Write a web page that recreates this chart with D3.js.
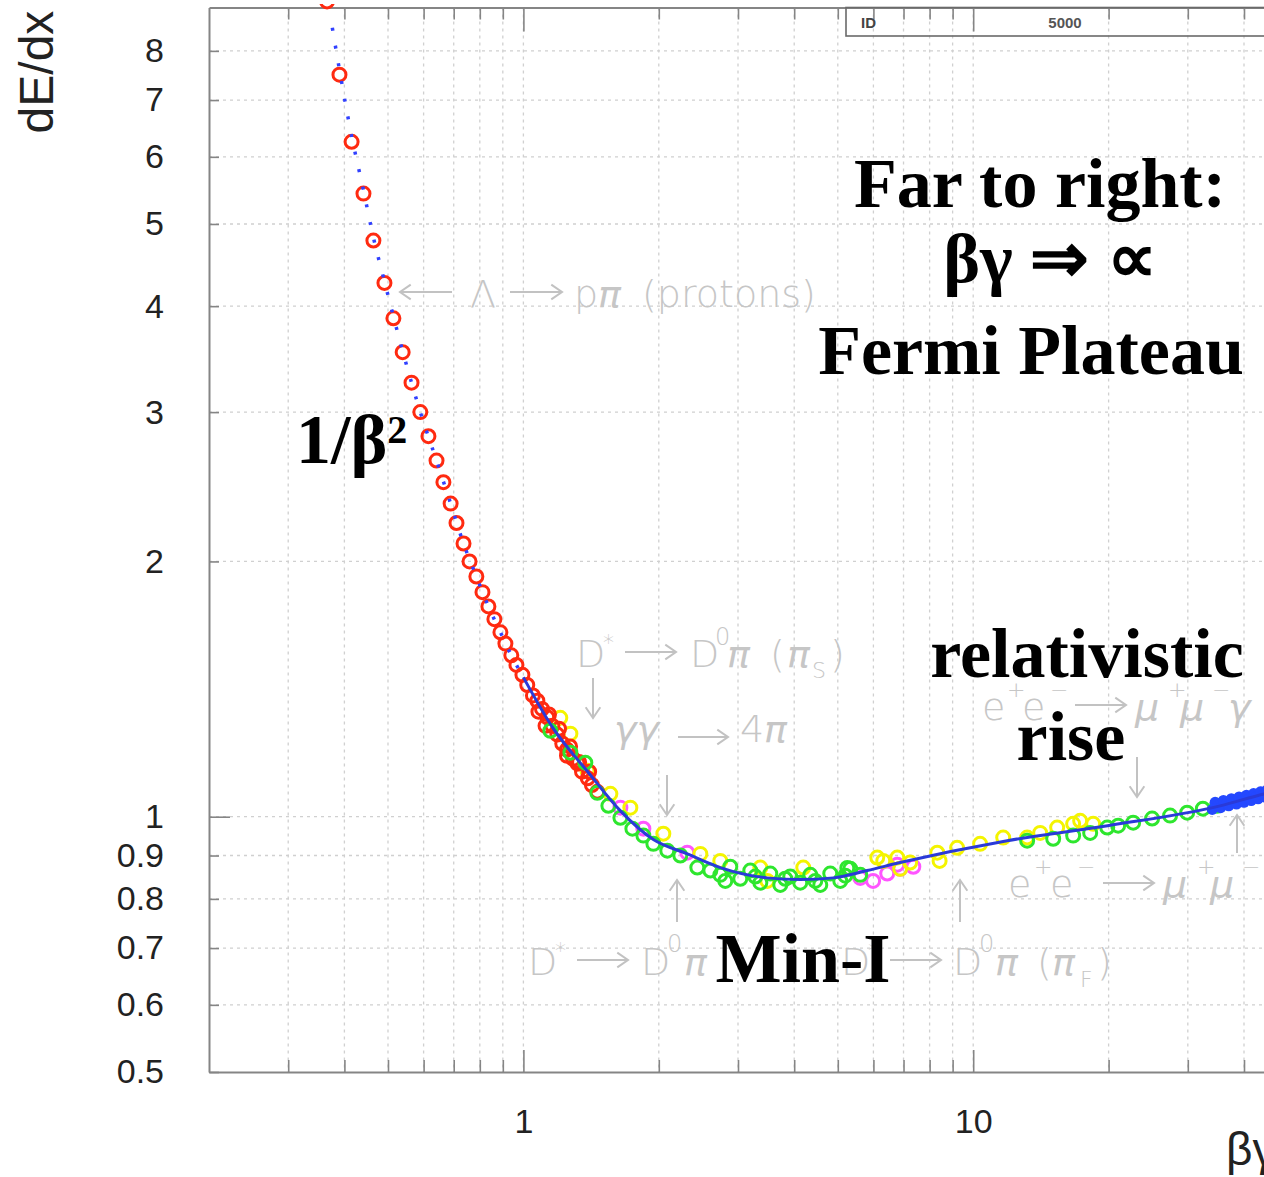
<!DOCTYPE html>
<html>
<head>
<meta charset="utf-8">
<script src="https://cdn.jsdelivr.net/npm/d3@7"></script>
<style>
body { margin: 0; background: #fff; }
svg { display: block; }
.axis path { stroke: #858585; stroke-width: 2; }
.axis line { stroke: #858585; stroke-width: 1.6; }
.grid line { stroke: #d0d0d0; stroke-width: 1.3; stroke-dasharray: 3,4; }
.tick-label { font-family: "Liberation Sans", Arial, sans-serif; font-size: 34px; fill: #222; }
.big { font-family: "Liberation Serif", "Times New Roman", serif; font-weight: bold; font-size: 70px; fill: #000; }
.note { font-family: "DejaVu Sans", sans-serif; font-weight: 200; font-size: 38px; fill: #c6c6c6; }
</style>
</head>
<body>
<div id="chart"></div>
<script>
// axis ticks / labels
var xGrid = [0.3,0.4,0.5,0.6,0.7,0.8,0.9,1,2,3,4,5,6,7,8,9,10,20,30,40,50,60,70,80,90];
var xLabels = [1, 10];
var yGrid = [0.6,0.7,0.8,0.9,1,2,3,4,5,6,7,8];
var yLabels = [0.5,0.6,0.7,0.8,0.9,1,2,3,4,5,6,7,8];

// protons (red)
var redBG = [0.366,0.390,0.415,0.441,0.464,0.491,0.514,0.539,0.564,0.590,0.615,0.641,0.664,0.689,0.710,0.736,0.759,0.786,0.811,0.836,0.862,0.889,0.912,0.940,0.965,0.995,1.02,1.05,1.074,1.10,1.13,1.16,1.19,1.22,1.25,1.29,1.32,1.35,1.39,1.42,1.46,1.08,1.14,1.20,1.27,1.33,1.40,1.12,1.25];
var redDE = [9.15,7.50,6.25,5.43,4.78,4.26,3.87,3.53,3.25,3.00,2.81,2.63,2.48,2.34,2.22,2.10,2.00,1.92,1.84,1.77,1.71,1.65,1.60,1.55,1.51,1.47,1.43,1.39,1.37,1.34,1.31,1.28,1.25,1.22,1.20,1.17,1.155,1.13,1.11,1.09,1.07,1.33,1.32,1.27,1.21,1.16,1.13,1.28,1.18];

// green
var greenBG = [1.148,1.272,1.373,1.460,1.545,1.643,1.747,1.848,1.945,2.089,2.233,2.436,2.604,2.74,2.884,3.035,3.195,3.363,3.539,3.725,3.92,4.126,4.343,4.571,4.811,5.064,5.33,5.61,2.811,3.278,3.821,4.456,5.195,5.25,13.18,15.06,16.68,18.2,19.86,21.0,22.68,24.99,27.4,29.9,32.4,34.85];
var greenDE = [1.263,1.190,1.158,1.067,1.030,0.997,0.968,0.950,0.929,0.912,0.900,0.871,0.864,0.854,0.873,0.845,0.864,0.836,0.857,0.831,0.850,0.836,0.854,0.831,0.857,0.840,0.868,0.854,0.840,0.850,0.845,0.840,0.852,0.870,0.937,0.942,0.950,0.957,0.971,0.976,0.984,0.995,1.003,1.011,1.022,1.030];

// yellow
var yellowBG = [1.208,1.272,1.388,1.561,1.729,2.047,2.474,2.74,3.363,3.485,4.19,6.12,6.31,6.78,7.24,8.32,9.21,10.36,11.66,13.18,14.09,15.37,16.68,17.29,18.48,6.88,8.42];
var yellowDE = [1.308,1.253,1.133,1.064,1.025,0.955,0.904,0.887,0.871,0.840,0.871,0.895,0.887,0.895,0.883,0.907,0.919,0.929,0.945,0.945,0.957,0.971,0.981,0.989,0.981,0.868,0.887];

// magenta
var magentaBG = [1.643,1.848,2.314,5.61,5.99,6.44,6.88,7.36,6.78];
var magentaDE = [1.025,0.968,0.907,0.847,0.840,0.857,0.868,0.873,0.878];

// blue cluster at high betagamma
var blueBG = [34.0,34.5,35.0,35.5,36.0,36.5,37.0,37.5,38.0,38.5,39.0,39.5,40.0,40.5,41.0,41.5,42.0,42.5,43.0,43.5,44.0,44.5,45.0,46.0,47.0];
var blueDE = [1.02,1.04,1.03,1.025,1.045,1.035,1.03,1.05,1.04,1.035,1.055,1.045,1.04,1.06,1.05,1.045,1.065,1.055,1.05,1.07,1.06,1.055,1.075,1.065,1.07];

// Bethe-Bloch fit curve
var fitBG = [0.376,0.39,0.415,0.441,0.464,0.491,0.514,0.539,0.564,0.59,0.641,0.689,0.736,0.786,0.836,0.889,0.94,1.0,1.166,1.39,1.643,1.945,2.314,2.74,3.48,4.13,4.89,5.81,6.88,11.9,19.9,35.4,44.3,60];
var fitDE = [8.52,7.6,6.35,5.48,4.82,4.28,3.89,3.54,3.25,3.00,2.63,2.34,2.10,1.92,1.77,1.65,1.55,1.46,1.27,1.13,1.016,0.94,0.904,0.871,0.847,0.843,0.847,0.864,0.883,0.937,0.976,1.030,1.064,1.10];

var width = 1264, height = 1177;

var svg = d3.select("#chart").append("svg")
    .attr("width", width)
    .attr("height", height);

var x = d3.scaleLog().domain([0.2, 100]).range([209, 1423]);
var y = d3.scaleLog().domain([0.5, 9]).range([1072, 7.5]);

function zip(a, b) { return a.map(function(v, i) { return [v, b[i]]; }); }

// grid
var grid = svg.append("g").attr("class", "grid");
grid.selectAll(".gx").data(xGrid).enter().append("line")
    .attr("x1", function(d) { return x(d); }).attr("x2", function(d) { return x(d); })
    .attr("y1", y(9)).attr("y2", y(0.5));
grid.selectAll(".gy").data(yGrid).enter().append("line")
    .attr("x1", x(0.2)).attr("x2", width)
    .attr("y1", function(d) { return y(d); }).attr("y2", function(d) { return y(d); });

// axes
var gx = svg.append("g").attr("class", "axis")
    .attr("transform", "translate(0," + y(0.5) + ")")
    .call(d3.axisBottom(x).tickValues(xGrid).tickSize(-12).tickSizeOuter(0).tickPadding(37)
      .tickFormat(function(d) { return xLabels.indexOf(d) >= 0 ? d : ""; }));
gx.selectAll(".tick line").filter(function(d) { return xLabels.indexOf(d) >= 0; }).attr("y2", -22);

var gt = svg.append("g").attr("class", "axis")
    .attr("transform", "translate(0," + y(9) + ")")
    .call(d3.axisTop(x).tickValues(xGrid).tickSize(-12).tickSizeOuter(0).tickFormat(""));
gt.selectAll(".tick line").filter(function(d) { return xLabels.indexOf(d) >= 0; }).attr("y2", 24);

var gy = svg.append("g").attr("class", "axis")
    .attr("transform", "translate(" + x(0.2) + ",0)")
    .call(d3.axisLeft(y).tickValues(yLabels).tickSize(-10).tickSizeOuter(0).tickPadding(45)
      .tickFormat(function(d) { return String(d); }));
gy.selectAll(".tick line").filter(function(d) { return d === 1; }).attr("x2", 21);

svg.selectAll(".axis text").attr("class", "tick-label");

// axis titles
svg.append("text").attr("class", "tick-label")
    .attr("transform", "translate(53,72) rotate(-90)")
    .attr("text-anchor", "middle")
    .style("font-size", "48px")
    .text("dE/dx");
svg.append("text").attr("class", "tick-label")
    .attr("x", 1226).attr("y", 1165)
    .style("font-size", "46px")
    .text("βγ");

// stats box
svg.append("rect").attr("x", 846).attr("y", 7.5).attr("width", 500).attr("height", 28.5)
    .attr("fill", "none").attr("stroke", "#6a6a6a").attr("stroke-width", 1.6);
svg.append("text").attr("x", 861).attr("y", 28).attr("font-family", "Liberation Sans, Arial, sans-serif")
    .attr("font-weight", "bold").attr("font-size", 15).attr("fill", "#444").text("ID");
svg.append("text").attr("x", 1065).attr("y", 28).attr("text-anchor", "middle")
    .attr("font-family", "Liberation Sans, Arial, sans-serif")
    .attr("font-weight", "bold").attr("font-size", 15).attr("fill", "#555").text("5000");

// grey sample annotations
var notes = svg.append("g");
function arrow(x1, y1, x2, y2) {
  var a = Math.atan2(y2 - y1, x2 - x1), h = 13;
  notes.append("path")
    .attr("d", "M" + x1 + "," + y1 + "L" + x2 + "," + y2 +
      "M" + (x2 - h * Math.cos(a - 0.6)) + "," + (y2 - h * Math.sin(a - 0.6)) + "L" + x2 + "," + y2 +
      "L" + (x2 - h * Math.cos(a + 0.6)) + "," + (y2 - h * Math.sin(a + 0.6)))
    .attr("fill", "none").attr("stroke", "#c2c2c2").attr("stroke-width", 2);
}
function note(px, py, s, size, italic) {
  var t = notes.append("text").attr("class", "note").attr("x", px).attr("y", py).text(s);
  if (size) t.style("font-size", size + "px");
  if (italic) t.style("font-style", "italic");
}

arrow(452, 292, 400, 292);
note(470, 307, "Λ");
arrow(510, 292, 562, 292);
note(574, 307, "p"); note(598, 307, "π", 0, true); note(642, 307, "(protons)");

note(576, 667, "D"); note(603, 650, "*", 22);
arrow(625, 652, 676, 652);
note(690, 667, "D"); note(715, 645, "0", 24); note(727, 667, "π", 0, true);
note(770, 667, "("); note(787, 667, "π", 0, true); note(812, 678, "S", 22); note(830, 667, ")");
arrow(593, 678, 593, 718);
note(614, 742, "γγ", 0, true);
arrow(678, 737, 728, 737);
note(740, 742, "4"); note(764, 742, "π", 0, true);
arrow(667, 775, 667, 815);

note(982, 720, "e"); note(1007, 697, "+", 22); note(1022, 720, "e"); note(1050, 697, "−", 22);
arrow(1075, 705, 1126, 705);
note(1135, 720, "μ", 0, true); note(1168, 697, "+", 22); note(1180, 720, "μ", 0, true); note(1212, 697, "−", 22);
note(1228, 720, "γ", 0, true);
arrow(1137, 757, 1137, 797);
arrow(1237, 853, 1237, 815);

arrow(677, 922, 677, 880);
arrow(960, 922, 960, 880);
note(528, 975, "D"); note(555, 958, "*", 22);
arrow(577, 960, 628, 960);
note(641, 975, "D"); note(667, 952, "0", 24); note(684, 975, "π", 0, true);
note(841, 975, "D"); note(868, 958, "*", 22);
arrow(890, 960, 941, 960);
note(953, 975, "D"); note(979, 952, "0", 24); note(995, 975, "π", 0, true);
note(1037, 975, "("); note(1052, 975, "π", 0, true); note(1080, 987, "F", 22); note(1097, 975, ")");

note(1008, 897, "e"); note(1034, 874, "+", 22); note(1050, 897, "e"); note(1077, 874, "−", 22);
arrow(1103, 883, 1154, 883);
note(1163, 897, "μ", 0, true); note(1197, 874, "+", 22); note(1210, 897, "μ", 0, true); note(1242, 874, "−", 22);

// data
svg.append("clipPath").attr("id", "plot-clip")
  .append("rect").attr("x", 209).attr("y", 4).attr("width", width - 209).attr("height", 1068);
var plot = svg.append("g").attr("clip-path", "url(#plot-clip)");

function circles(bg, de, color) {
  plot.append("g").selectAll("circle")
    .data(zip(bg, de))
    .enter().append("circle")
    .attr("cx", function(d) { return x(d[0]); })
    .attr("cy", function(d) { return y(d[1]); })
    .attr("r", 6.5)
    .attr("fill", "none")
    .attr("stroke", color)
    .attr("stroke-width", 3);
}
circles(magentaBG, magentaDE, "#ff55ff");
circles(yellowBG, yellowDE, "#f4f400");
circles(redBG, redDE, "#ff2a10");
circles(greenBG, greenDE, "#2ee62e");

plot.append("g").selectAll("circle")
  .data(zip(blueBG, blueDE))
  .enter().append("circle")
  .attr("cx", function(d) { return x(d[0]); })
  .attr("cy", function(d) { return y(d[1]); })
  .attr("r", 5.5)
  .attr("fill", "#2448ff");

var fit = zip(fitBG, fitDE);
var line = d3.line()
  .x(function(d) { return x(d[0]); })
  .y(function(d) { return y(d[1]); })
  .curve(d3.curveMonotoneX);
plot.append("path")
  .datum(fit.filter(function(d) { return d[0] <= 1.0; }))
  .attr("d", line)
  .attr("fill", "none").attr("stroke", "#3040ff").attr("stroke-width", 3.5)
  .attr("stroke-dasharray", "3,15");
plot.append("path")
  .datum(fit.filter(function(d) { return d[0] >= 1.0; }))
  .attr("d", line)
  .attr("fill", "none").attr("stroke", "#2a3ad8").attr("stroke-width", 3);

// bold annotations
function big(px, py, s, anchor) {
  return svg.append("text").attr("class", "big").attr("x", px).attr("y", py)
    .attr("text-anchor", anchor || "middle").text(s);
}
big(1040, 207, "Far to right:");
big(1050, 282, "βγ ⇒ ∝");
big(1031, 374, "Fermi Plateau");
var beta = big(296, 463, "1/β", "start");
beta.append("tspan").attr("dy", -20).style("font-size", "40px").text("2");
big(1087, 677, "relativistic");
big(1071, 760, "rise");
big(803, 982, "Min-I");
</script>
</body>
</html>
